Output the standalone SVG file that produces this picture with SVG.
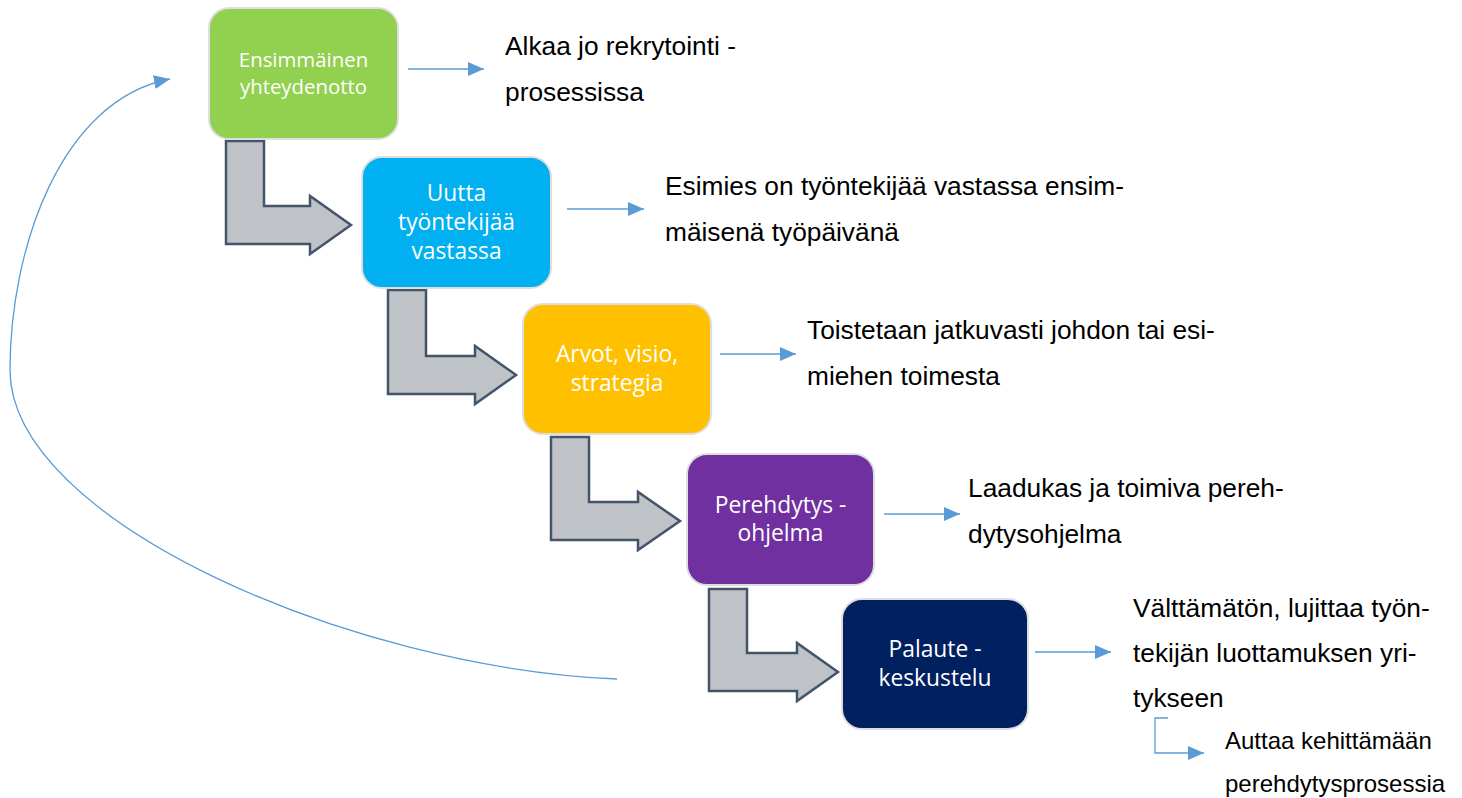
<svg xmlns="http://www.w3.org/2000/svg" width="1462" height="798" viewBox="0 0 1462 798">
  <style>
    .box { stroke: #DEDEDE; stroke-width: 2; }
    .bt { font-family: "Open Sans", "Liberation Sans", sans-serif; fill: #FFFFFF; text-anchor: middle; }
    .st { font-family: "Liberation Sans", Arial, sans-serif; fill: #000000; font-size: 26.3px; }
    .sm { font-family: "Liberation Sans", Arial, sans-serif; fill: #000000; font-size: 24px; }
    .bend { fill: #BFC3C8; stroke: #44546A; stroke-width: 2.5; stroke-linejoin: miter; }
    .con { fill: none; stroke: #5B9BD5; stroke-width: 1.3; }
  </style>
  <defs>
    <marker id="ah" markerUnits="userSpaceOnUse" markerWidth="16" markerHeight="14" refX="16" refY="7" orient="auto">
      <path d="M0,0 L16,7 L0,14 Z" fill="#5B9BD5"/>
    </marker>
  </defs>
  <rect width="1462" height="798" fill="#FFFFFF"/>

  <g id="bent-arrows">
    <polygon class="bend" points="226,141 264,141 264,206 310,206 310,196 351,225 310,254 310,244 226,244"/>
    <polygon class="bend" points="388,290 426,290 426,356 475,356 475,346 516,375 475,404 475,394 388,394"/>
    <polygon class="bend" points="551,437 589,437 589,502 638,502 638,492 680,521 638,550 638,540 551,540"/>
    <polygon class="bend" points="709,589 747,589 747,653 797,653 797,643 838,672 797,701 797,691 709,691"/>
  </g>

  <g id="node1">
    <rect class="box" x="209" y="8" width="189" height="131" rx="20" fill="#92D050"/>
    <text class="bt" font-size="20.4" x="303.5" y="67">Ensimmäinen</text>
    <text class="bt" font-size="20.4" x="303.5" y="94">yhteydenotto</text>
  </g>
  <g id="node2">
    <rect class="box" x="362" y="157" width="189" height="131" rx="20" fill="#00B0F0"/>
    <text class="bt" font-size="22.8" x="456.5" y="201">Uutta</text>
    <text class="bt" font-size="22.8" x="456.5" y="230">työntekijää</text>
    <text class="bt" font-size="22.8" x="456.5" y="259">vastassa</text>
  </g>
  <g id="node3">
    <rect class="box" x="523" y="304" width="188" height="130" rx="20" fill="#FFC000"/>
    <text class="bt" font-size="22.8" x="617" y="362">Arvot, visio,</text>
    <text class="bt" font-size="22.8" x="617" y="391">strategia</text>
  </g>
  <g id="node4">
    <rect class="box" x="687" y="454" width="187" height="131" rx="20" fill="#7030A0"/>
    <text class="bt" font-size="22.8" x="780.5" y="513">Perehdytys -</text>
    <text class="bt" font-size="22.8" x="780.5" y="541">ohjelma</text>
  </g>
  <g id="node5">
    <rect class="box" x="842" y="599" width="186" height="130" rx="20" fill="#002060"/>
    <text class="bt" font-size="22.8" x="935" y="657">Palaute -</text>
    <text class="bt" font-size="22.8" x="935" y="686">keskustelu</text>
  </g>

  <g id="note1">
    <text class="st" x="505" y="55">Alkaa jo rekrytointi -</text>
    <text class="st" x="505" y="101">prosessissa</text>
  </g>
  <g id="note2">
    <text class="st" x="665" y="195">Esimies on työntekijää vastassa ensim-</text>
    <text class="st" x="665" y="241">mäisenä työpäivänä</text>
  </g>
  <g id="note3">
    <text class="st" x="807" y="339">Toistetaan jatkuvasti johdon tai esi-</text>
    <text class="st" x="807" y="385">miehen toimesta</text>
  </g>
  <g id="note4">
    <text class="st" x="968" y="497">Laadukas ja toimiva pereh-</text>
    <text class="st" x="968" y="543">dytysohjelma</text>
  </g>
  <g id="note5">
    <text class="st" x="1133" y="617">Välttämätön, lujittaa työn-</text>
    <text class="st" x="1133" y="662">tekijän luottamuksen yri-</text>
    <text class="st" x="1133" y="707">tykseen</text>
  </g>
  <g id="note6">
    <text class="sm" x="1225" y="749">Auttaa kehittämään</text>
    <text class="sm" x="1225" y="792">perehdytysprosessia</text>
  </g>

  <g id="connectors">
    <path class="con" d="M408,69 H484" marker-end="url(#ah)"/>
    <path class="con" d="M567,209 H644" marker-end="url(#ah)"/>
    <path class="con" d="M720,354 H796" marker-end="url(#ah)"/>
    <path class="con" d="M884,514 H960" marker-end="url(#ah)"/>
    <path class="con" d="M1035,652 H1111" marker-end="url(#ah)"/>
    <path class="con" d="M1168,718 H1155 V753 H1204" marker-end="url(#ah)"/>
    <path class="con" d="M617,679 C350,668 10,520 10,370 C10,250 60,100 170,79" marker-end="url(#ah)"/>
  </g>
</svg>
